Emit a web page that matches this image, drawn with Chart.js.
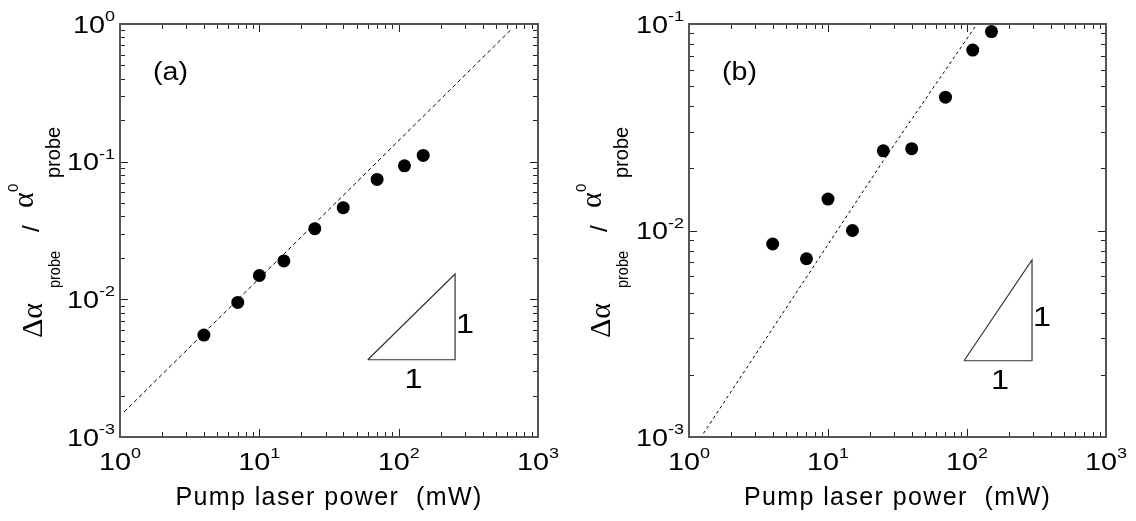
<!DOCTYPE html>
<html>
<head>
<meta charset="utf-8">
<script src="https://cdn.jsdelivr.net/npm/chart.js@4"></script>
<style>
  html, body { margin: 0; padding: 0; background: #fff; }
  .panel { position: absolute; top: 0; width: 568px; height: 521px; }
  #panelA { left: 0; }
  #panelB { left: 568px; }
</style>
</head>
<body>
<div class="panel" id="panelA"><canvas id="chartA" width="568" height="521"></canvas></div>
<div class="panel" id="panelB"><canvas id="chartB" width="568" height="521"></canvas></div>
<script>
// pump power (mW), same for both panels
const pumpPower = [4, 7, 10, 15, 25, 40, 70, 110, 150];
// (a) and (b) normalised absorption change
const absorbA = [0.0055, 0.0095, 0.0149, 0.019, 0.0326, 0.0463, 0.0743, 0.0933, 0.111];
const absorbB = [0.0086, 0.0073, 0.0142, 0.0100, 0.0243, 0.0249, 0.0442, 0.0748, 0.0919];

// dashed guide lines
const fitAx = [1.07, 640];
const fitAy = [0.00152, 0.91];
const fitBx = [1.27, 25.7, 118];
const fitBy = [0.00104, 0.0224, 0.1];

// slope-1 triangles
const triAx = [60, 254, 254, 60];
const triAy = [0.00364, 0.00364, 0.01528, 0.00364];
const triBx = [95.2, 293.6, 293.6, 95.2];
const triBy = [0.00234, 0.00234, 0.0072, 0.00234];

// tick labels (powers of ten)
const xTickExp = [0, 1, 2, 3];
const yTickExpA = [-3, -2, -1, 0];
const yTickExpB = [-3, -2, -1];

const FONT = '"Liberation Sans", Arial, sans-serif';
const SERIF = '"Liberation Serif", "Times New Roman", serif';

function pts(xs, ys) {
  return xs.map((x, i) => ({ x: x, y: ys[i] }));
}

function logTicks(min, max) {
  let out = [];
  let e0 = Math.floor(Math.log10(min) + 1e-9);
  let e1 = Math.ceil(Math.log10(max) - 1e-9);
  for (let e = e0; e <= e1; e++) {
    for (let m = 1; m <= 9; m++) {
      let v = m * Math.pow(10, e);
      if (v >= min * 0.999 && v <= max * 1.001) out.push({ v: v, major: m === 1 });
    }
  }
  return out;
}

function txt(ctx, s, x, y, size, align, sx, family) {
  ctx.save();
  ctx.font = size + "px " + (family || FONT);
  ctx.textAlign = align || "left";
  ctx.textBaseline = "alphabetic";
  ctx.translate(x, y);
  ctx.scale(sx || 1, 1);
  ctx.fillText(s, 0, 0);
  ctx.restore();
}

function txtWidth(ctx, s, size, sx) {
  ctx.save();
  ctx.font = size + "px " + FONT;
  let w = ctx.measureText(s).width * (sx || 1);
  ctx.restore();
  return w;
}

// ticks, frame and all texts
const decor = {
  id: "decor",
  afterDraw(chart) {
    const o = chart.options.plugins.decor;
    const ctx = chart.ctx;
    const a = chart.chartArea;
    const xs = chart.scales.x;
    const ys = chart.scales.y;

    ctx.save();
    ctx.fillStyle = "#000";
    ctx.strokeStyle = "#222";
    ctx.lineWidth = 1;
    ctx.beginPath();
    logTicks(xs.min, xs.max).forEach((t) => {
      let px = Math.round(xs.getPixelForValue(t.v)) + 0.5;
      let len = t.major ? 8 : 5;
      ctx.moveTo(px, a.bottom); ctx.lineTo(px, a.bottom - len);
      ctx.moveTo(px, a.top); ctx.lineTo(px, a.top + len);
    });
    logTicks(ys.min, ys.max).forEach((t) => {
      let py = Math.round(ys.getPixelForValue(t.v)) + 0.5;
      let len = t.major ? 8 : 5;
      ctx.moveTo(a.left, py); ctx.lineTo(a.left + len, py);
      ctx.moveTo(a.right, py); ctx.lineTo(a.right - len, py);
    });
    ctx.stroke();

    // frame
    ctx.strokeStyle = "#555";
    ctx.lineWidth = 2;
    ctx.strokeRect(a.left, a.top, a.right - a.left, a.bottom - a.top);

    // x tick labels
    const SX = 1.2;
    xTickExp.forEach((e) => {
      let px = xs.getPixelForValue(Math.pow(10, e));
      let wb = txtWidth(ctx, "10", 24, SX);
      let ws = txtWidth(ctx, String(e), 15, SX);
      let x0 = px - (wb + ws) / 2;
      txt(ctx, "10", x0, a.bottom + 33, 24, "left", SX);
      txt(ctx, String(e), x0 + wb, a.bottom + 21, 15, "left", SX);
    });
    // y tick labels
    o.yExp.forEach((e) => {
      let py = ys.getPixelForValue(Math.pow(10, e));
      let ws = txtWidth(ctx, String(e), 15, SX);
      let xr = a.left - 5;
      txt(ctx, String(e), xr - ws, py - 3, 15, "left", SX);
      txt(ctx, "10", xr - ws, py + 8.5, 24, "right", SX);
    });

    // x title
    ctx.save();
    ctx.font = "25px " + FONT;
    ctx.letterSpacing = "1.4px";
    ctx.textAlign = "center";
    ctx.fillText("Pump laser power  (mW)", (a.left + a.right) / 2, 505);
    ctx.restore();

    // y title, rotated
    ctx.save();
    ctx.translate(42, 338);
    ctx.rotate(-Math.PI / 2);
    ctx.font = "30px " + SERIF;
    ctx.fillText("\u0394\u03b1", 0, 0, 38);
    ctx.font = "17px " + FONT;
    ctx.fillText("probe", 50, 17.5, 37);
    ctx.font = "24px " + FONT;
    ctx.fillText("/", 106, -3);
    ctx.font = "30px " + SERIF;
    ctx.fillText("\u03b1", 130, -9, 17);
    ctx.font = "15px " + FONT;
    ctx.fillText("0", 146, -24);
    ctx.font = "20px " + FONT;
    ctx.fillText("probe", 160, 17.5, 53);
    ctx.restore();

    // panel label
    txt(ctx, o.label, a.left + 33, a.top + 56, 26, "left", 1.1);

    // triangle labels
    let tx1 = xs.getPixelForValue(o.tri.x[0]);
    let tx2 = xs.getPixelForValue(o.tri.x[1]);
    let tyB = ys.getPixelForValue(o.tri.y[0]);
    let tyT = ys.getPixelForValue(o.tri.y[2]);
    txt(ctx, "1", tx2 + 1, (tyB + tyT) / 2 + 16, 27, "left", 1.2);
    txt(ctx, "1", (tx1 + tx2) / 2 + 2, tyB + 28, 27, "center", 1.2);
    ctx.restore();
  },
};

function makePanel(id, cfg) {
  return new Chart(document.getElementById(id), {
    type: "scatter",
    data: {
      datasets: [
        {
          label: "data",
          data: pts(pumpPower, cfg.values),
          pointRadius: 6.5,
          pointHoverRadius: 6.5,
          pointBackgroundColor: "#000",
          pointBorderWidth: 0,
          showLine: false,
        },
        {
          label: "fit",
          data: pts(cfg.fitX, cfg.fitY),
          showLine: true,
          borderColor: "#000",
          borderWidth: 1,
          borderDash: cfg.dash,
          pointRadius: 0,
          tension: 0,
        },
        {
          label: "slope",
          data: pts(cfg.tri.x, cfg.tri.y),
          showLine: true,
          borderColor: "#333",
          borderWidth: 1.2,
          pointRadius: 0,
          tension: 0,
        },
      ],
    },
    options: {
      responsive: false,
      animation: false,
      events: [],
      layout: { padding: { top: 24, right: 30, left: 0, bottom: 0 } },
      plugins: {
        legend: { display: false },
        tooltip: { enabled: false },
        decor: { label: cfg.label, yExp: cfg.yExp, tri: cfg.tri },
      },
      scales: {
        x: {
          type: "logarithmic",
          min: 1,
          max: 1000,
          grid: { display: false },
          border: { display: false },
          ticks: { display: false },
          afterFit: (s) => { s.height = 84; },
        },
        y: {
          type: "logarithmic",
          min: 0.001,
          max: cfg.yMax,
          grid: { display: false },
          border: { display: false },
          ticks: { display: false },
          afterFit: (s) => { s.width = cfg.yWidth; },
        },
      },
    },
    plugins: [decor],
  });
}

makePanel("chartA", {
  values: absorbA, fitX: fitAx, fitY: fitAy, dash: [4, 3],
  tri: { x: triAx, y: triAy }, label: "(a)", yExp: yTickExpA, yMax: 1, yWidth: 120,
});
makePanel("chartB", {
  values: absorbB, fitX: fitBx, fitY: fitBy, dash: [3, 3],
  tri: { x: triBx, y: triBy }, label: "(b)", yExp: yTickExpB, yMax: 0.1, yWidth: 121,
});
</script>
</body>
</html>
